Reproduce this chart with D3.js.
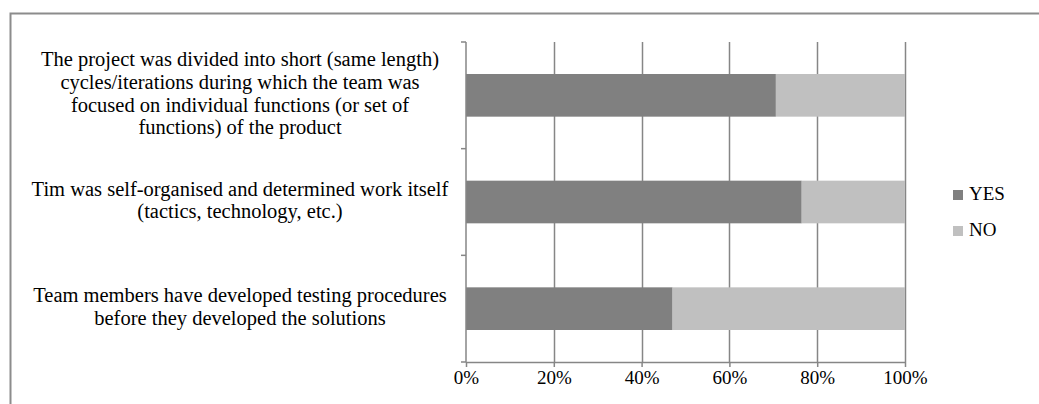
<!DOCTYPE html>
<html>
<head>
<meta charset="utf-8">
<script src="https://cdn.jsdelivr.net/npm/d3@7"></script>
<style>
  body { margin: 0; background: #fff; }
</style>
</head>
<body>
<svg width="1039" height="404"></svg>
<script>
// answers per statement (respondents = 17)
var statements = [
  ["The project was divided into short (same length)",
   "cycles/iterations during which the team was",
   "focused on individual functions (or set of",
   "functions) of the product"],
  ["Tim was self-organised and determined work itself",
   "(tactics, technology, etc.)"],
  ["Team members have developed testing procedures",
   "before they developed the solutions"]
];
var yesCounts = [12, 13, 8];
var noCounts = [5, 4, 9];
var seriesNames = ["YES", "NO"];
var seriesColors = ["#808080", "#c0c0c0"];
var xTicks = [0, 0.2, 0.4, 0.6, 0.8, 1];

var FONT = "Liberation Serif, Times New Roman, serif";

var svg = d3.select("svg"),
    width = +svg.attr("width"),
    height = +svg.attr("height");

var rows = statements.map((s, i) => ({ idx: i, YES: yesCounts[i], NO: noCounts[i] }));
var stacked = d3.stack().keys(seriesNames).offset(d3.stackOffsetExpand)(rows);

var m = { left: 466, right: 905, top: 42, bottom: 362 };

var x = d3.scaleLinear().domain([0, 1]).range([m.left, m.right]);
var y = d3.scaleBand().domain(d3.range(statements.length)).range([m.top, m.bottom])
    .paddingInner(0.6).paddingOuter(0.3);
var color = d3.scaleOrdinal().domain(seriesNames).range(seriesColors);

// outer frame
svg.append("path")
    .attr("d", "M10.5," + (height + 5) + "V13.5H" + (width + 5))
    .attr("fill", "none")
    .attr("stroke", "#8c8c8c")
    .attr("stroke-width", 2);

// vertical gridlines
svg.append("g")
  .selectAll("line")
  .data(xTicks.slice(1))
  .enter().append("line")
    .attr("x1", d => Math.round(x(d)) + 0.5)
    .attr("x2", d => Math.round(x(d)) + 0.5)
    .attr("y1", m.top)
    .attr("y2", m.bottom)
    .attr("stroke", "#868686")
    .attr("stroke-width", 1.5);

// bars
svg.append("g")
  .selectAll("g")
  .data(stacked)
  .enter().append("g")
    .attr("fill", d => color(d.key))
  .selectAll("rect")
  .data(d => d)
  .enter().append("rect")
    .attr("x", d => x(d[0]))
    .attr("y", d => y(d.data.idx))
    .attr("width", d => x(d[1]) - x(d[0]))
    .attr("height", y.bandwidth());

// x axis
var xAxis = svg.append("g")
    .attr("transform", "translate(0," + m.bottom + ")")
    .call(d3.axisBottom(x).tickValues(xTicks).tickFormat(d3.format(".0%")).tickSize(5).tickSizeOuter(0));
xAxis.select(".domain").attr("stroke", "#868686").attr("stroke-width", 1.5);
xAxis.selectAll(".tick line").attr("stroke", "#868686").attr("stroke-width", 1.5);
xAxis.selectAll(".tick text")
    .attr("font-family", FONT)
    .attr("font-size", 19)
    .attr("fill", "#000")
    .attr("y", 9);

// y axis with ticks on category boundaries
var nCat = statements.length;
var yAxisG = svg.append("g");
yAxisG.append("line")
    .attr("x1", m.left).attr("x2", m.left)
    .attr("y1", m.top).attr("y2", m.bottom)
    .attr("stroke", "#868686").attr("stroke-width", 1.5);
yAxisG.selectAll("line.tk")
  .data(d3.range(nCat + 1))
  .enter().append("line")
    .attr("class", "tk")
    .attr("x1", m.left - 5).attr("x2", m.left)
    .attr("y1", i => m.top + i * (m.bottom - m.top) / nCat)
    .attr("y2", i => m.top + i * (m.bottom - m.top) / nCat)
    .attr("stroke", "#868686").attr("stroke-width", 1.5);

// category labels
var lineH = 22.6;
var labels = svg.append("g")
  .selectAll("text")
  .data(statements)
  .enter().append("text")
    .attr("text-anchor", "middle")
    .attr("font-family", FONT)
    .attr("font-size", 20.5)
    .attr("fill", "#000");
labels.each(function(lines, i) {
  var cy = y(i) + y.bandwidth() / 2;
  var y0 = cy - (lines.length - 1) / 2 * lineH + 5;
  d3.select(this).selectAll("tspan")
    .data(lines)
    .enter().append("tspan")
      .attr("x", 240)
      .attr("y", (d, j) => y0 + j * lineH)
      .text(d => d);
});

// legend
var legend = svg.append("g")
  .selectAll("g")
  .data(seriesNames)
  .enter().append("g")
    .attr("transform", (d, i) => "translate(953," + (190 + i * 36) + ")");
legend.append("rect")
    .attr("width", 10).attr("height", 10)
    .attr("fill", d => color(d));
legend.append("text")
    .attr("x", 16).attr("y", 10)
    .attr("font-family", FONT)
    .attr("font-size", 19)
    .attr("fill", "#000")
    .text(d => d);
</script>
</body>
</html>
